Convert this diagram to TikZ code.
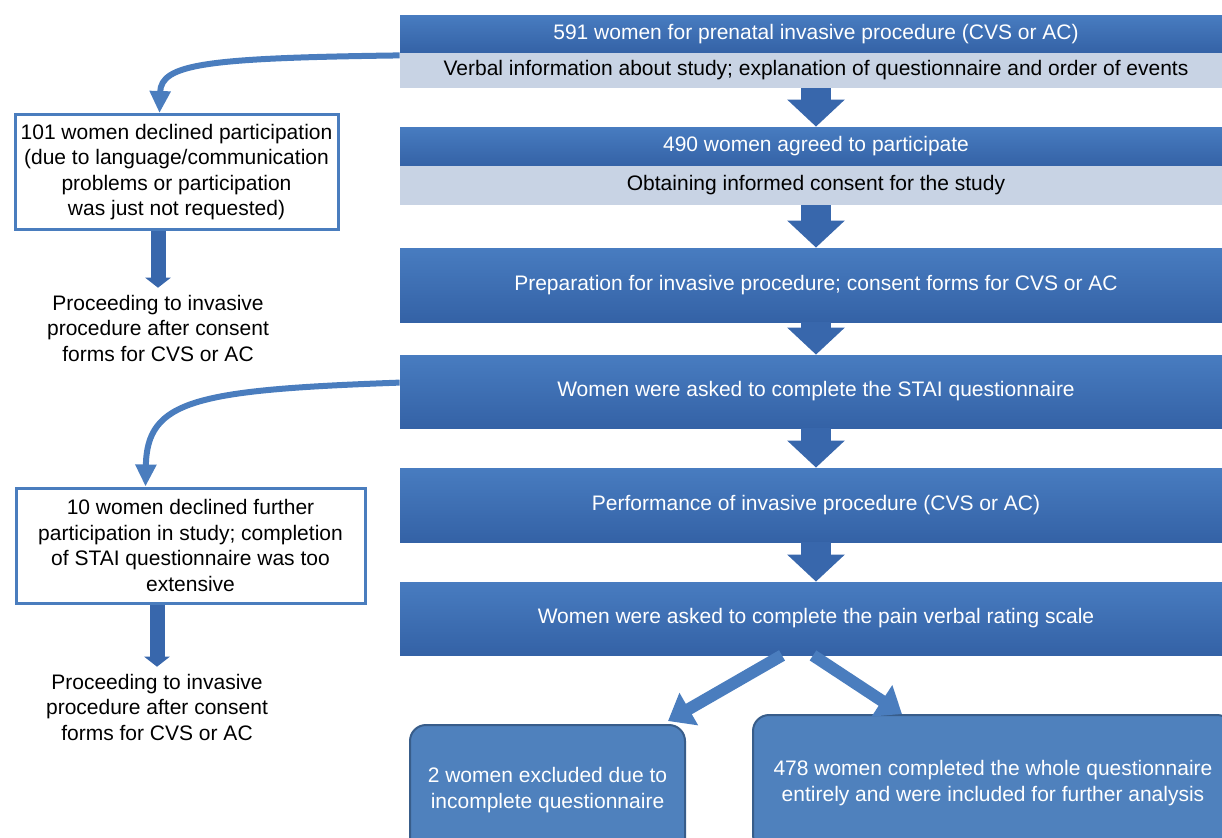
\documentclass[tikz,border=0pt]{standalone}
\usepackage{fontspec}
\setmainfont{Liberation Sans}
\usepackage{xcolor}
\usetikzlibrary{arrows.meta,calc}

\definecolor{boxblue}{RGB}{72,124,192}
\definecolor{boxbluedark}{RGB}{52,98,166}
\definecolor{lightbox}{RGB}{200,211,228}
\definecolor{arrowblue}{RGB}{56,103,172}
\definecolor{lineblue}{RGB}{74,125,190}
\definecolor{roundblue}{RGB}{79,129,189}
\definecolor{rounddraw}{RGB}{56,93,138}

\begin{document}
\begin{tikzpicture}
[x=0.5pt,y=-0.5pt,
 every node/.style={font=\fontsize{10.5}{12.75}\selectfont},
 mainbox/.style={rectangle,top color=boxblue,bottom color=boxbluedark,
			text=white,minimum width=416pt,inner sep=0pt},
 infobox/.style={rectangle,fill=lightbox,minimum width=416pt,
			minimum height=17.5pt,inner sep=0pt},
 sidebox/.style={rectangle,draw=lineblue,line width=1.5pt,fill=white,
			align=center,minimum height=57.5pt,inner sep=0pt},
 endbox/.style={rectangle,rounded corners=8pt,fill=roundblue,draw=rounddraw,
			line width=1pt,text=white,align=center},
 flowarrow/.style={arrowblue,line width=15pt,
			-{Triangle[width=28pt,length=13.5pt]}},
 sidearrow/.style={arrowblue,line width=7.5pt,
			-{Triangle[width=12.5pt,length=5pt]}},
 curvearrow/.style={lineblue,line width=3pt,
			-{Triangle[width=10pt,length=11pt]}},
 splitarrow/.style={lineblue,line width=6pt,
			-{Triangle[width=18pt,length=12pt]}}]

\useasboundingbox (0,0) rectangle (1222,837);

% main column
\node (b1) at (816,34)[mainbox,minimum height=19pt] {591 women for prenatal invasive procedure (CVS or AC)};
\node (l1) at (816,70.5)[infobox] {Verbal information about study; explanation of questionnaire and order of events};
\node (b2) at (816,146.5)[mainbox,minimum height=19.5pt] {490 women agreed to participate};
\node (l2) at (816,185.5)[infobox,minimum height=19.5pt] {Obtaining informed consent for the study};
\node (b3) at (816,285)[mainbox,minimum height=37pt] {Preparation for invasive procedure; consent forms for CVS or AC};
\node (b4) at (816,391.5)[mainbox,minimum height=36.5pt] {Women were asked to complete the STAI questionnaire};
\node (b5) at (816,505)[mainbox,minimum height=37pt] {Performance of invasive procedure (CVS or AC)};
\node (b6) at (816,618.5)[mainbox,minimum height=36.5pt] {Women were asked to complete the pain verbal rating scale};

% left side
\node (d1) at (176.5,172)[sidebox,minimum width=161.5pt] {101 women declined participation\\(due to language/communication\\problems or participation\\was just not requested)};
\node (p1) at (158,328)[align=center] {Proceeding to invasive\\procedure after consent\\forms for CVS or AC};
\node (d2) at (190.5,545.5)[sidebox,minimum width=174.5pt] {10 women declined further\\participation in study; completion\\of STAI questionnaire was too\\extensive};
\node (p2) at (157,707)[align=center] {Proceeding to invasive\\procedure after consent\\forms for CVS or AC};

% bottom
\node (e1) at (547.5,790)[endbox,minimum width=137.5pt,minimum height=65pt] {2 women excluded due to\\incomplete questionnaire};
\node (e2) at (993,783)[endbox,minimum width=240pt,minimum height=68pt] {478 women completed the whole questionnaire\\entirely and were included for further analysis};

\draw[flowarrow] (l1.south) -- (b2.north);
\draw[flowarrow] (l2.south) -- (b3.north);
\draw[flowarrow] (b3.south) -- (b4.north);
\draw[flowarrow] (b4.south) -- (b5.north);
\draw[flowarrow] (b5.south) -- (b6.north);

\draw[curvearrow] ($(b1.south west)+(0,2)$) .. controls (205,58) and (161,64) .. ([xshift=73pt]d1.north west);
\draw[sidearrow] (d1.south -| p1.north) -- (p1.north);

\draw[curvearrow] ($(b4.north west)+(0,28)$) .. controls (195,390) and (147,400) .. ([xshift=65.5pt]d2.north west);
\draw[sidearrow] (d2.south -| p2.north) -- (p2.north);

\draw[splitarrow] ($(b6.south)+(-34,0)$) -- ($(e1.north east)+(-18,-3)$);
\draw[splitarrow] ($(b6.south)+(-3,0)$) -- ($(e2.north west)+(150,0)$);

\end{tikzpicture}
\end{document}
